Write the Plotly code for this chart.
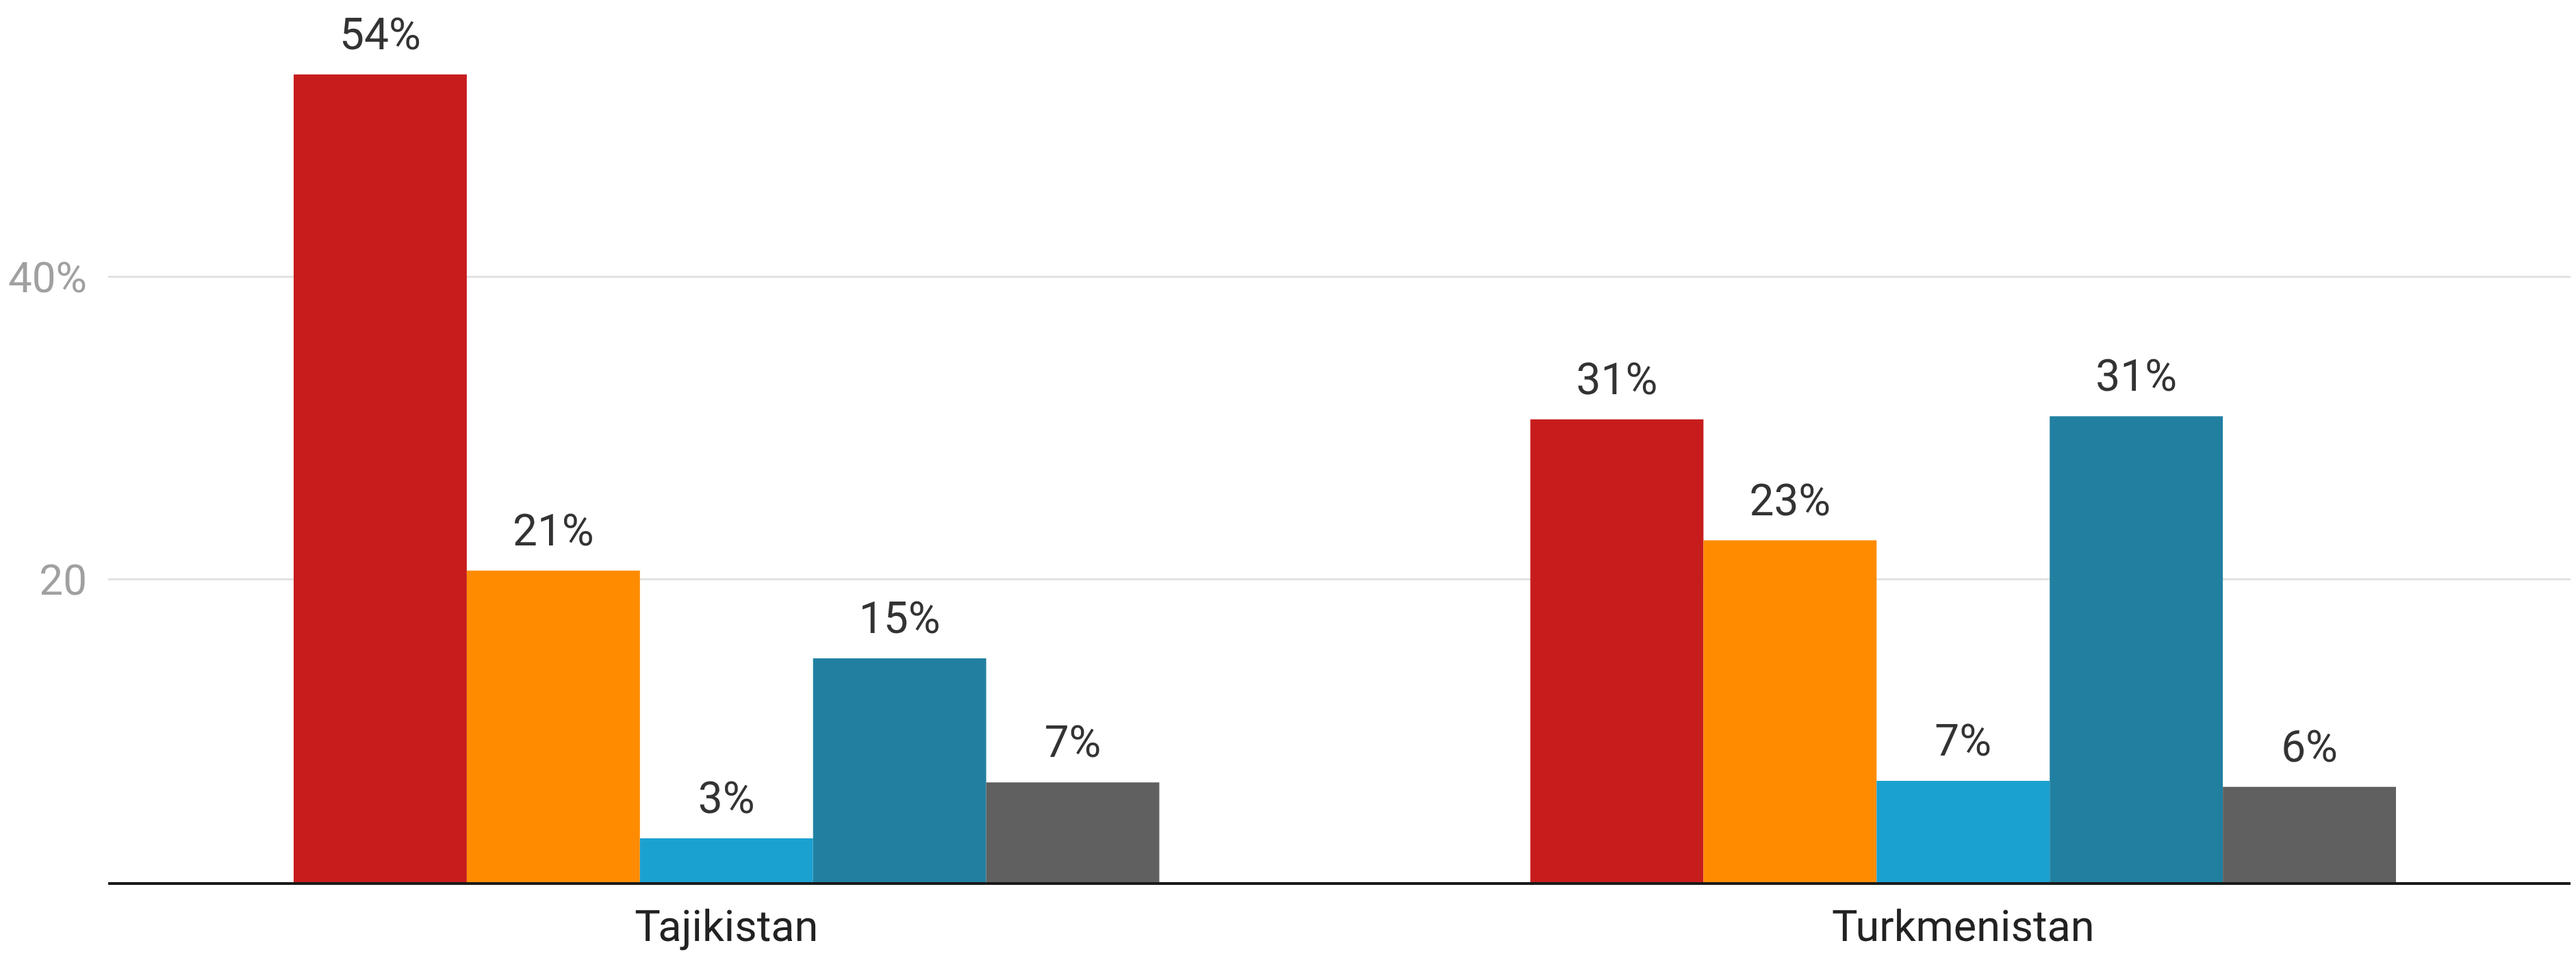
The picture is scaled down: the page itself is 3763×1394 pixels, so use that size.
import plotly.graph_objects as go

countries = ["Tajikistan", "Turkmenistan"]

# five series per country
series_a = [53.4, 30.6]
series_b = [20.6, 22.6]
series_c = [2.9, 6.7]
series_d = [14.8, 30.8]
series_e = [6.6, 6.3]

labels_a = ["54%", "31%"]
labels_b = ["21%", "23%"]
labels_c = ["3%", "7%"]
labels_d = ["15%", "31%"]
labels_e = ["7%", "6%"]

tick_vals = [20, 40]
tick_text = ["20", "40%"]

colors = ["#c71c1c", "#ff8c00", "#1ba1d0", "#2180a0", "#606060"]

all_series = [series_a, series_b, series_c, series_d, series_e]
all_labels = [labels_a, labels_b, labels_c, labels_d, labels_e]

fig = go.Figure()

for i in range(0, 5):
    fig.add_trace(go.Bar(
        x = countries,
        y = all_series[i],
        marker = dict(color = colors[i], line = dict(width = 0)),
        offsetgroup = str(i),
        showlegend = False,
        hoverinfo = "skip"
    ))

# value labels sit a bit above each bar; an invisible marker sets the gap
for i in range(0, 5):
    fig.add_trace(go.Scatter(
        x = countries,
        y = all_series[i],
        text = all_labels[i],
        mode = "markers+text",
        textposition = "top center",
        marker = dict(size = 32, color = "rgba(0,0,0,0)"),
        textfont = dict(family = "Roboto", size = 64, color = "#333333"),
        offsetgroup = str(i),
        cliponaxis = False,
        showlegend = False,
        hoverinfo = "skip"
    ))

fig.update_layout(
    width = 3763,
    height = 1394,
    margin = dict(l = 150, r = 0, t = 0, b = 113),
    paper_bgcolor = "white",
    plot_bgcolor = "white",
    barmode = "group",
    bargap = 0.3,
    bargroupgap = 0,
    scattermode = "group",
    scattergap = 0.3,
    font = dict(family = "Roboto", size = 62, color = "#222222"),
    showlegend = False
)

fig.update_xaxes(
    showgrid = False,
    showline = True,
    linecolor = "#1a1a1a",
    linewidth = 4,
    ticks = "",
    automargin = False,
    ticklabelstandoff = 6,
    tickfont = dict(family = "Roboto", size = 63, color = "#222222")
)

fig.update_yaxes(
    range = [0, 57.96],
    tickvals = tick_vals,
    ticktext = tick_text,
    showgrid = True,
    gridcolor = "#e2e2e2",
    gridwidth = 3,
    zeroline = False,
    showline = False,
    ticks = "",
    automargin = False,
    ticklabelstandoff = 30,
    tickfont = dict(family = "Roboto", size = 62, color = "#a0a0a0")
)

fig.write_html("out.html")
